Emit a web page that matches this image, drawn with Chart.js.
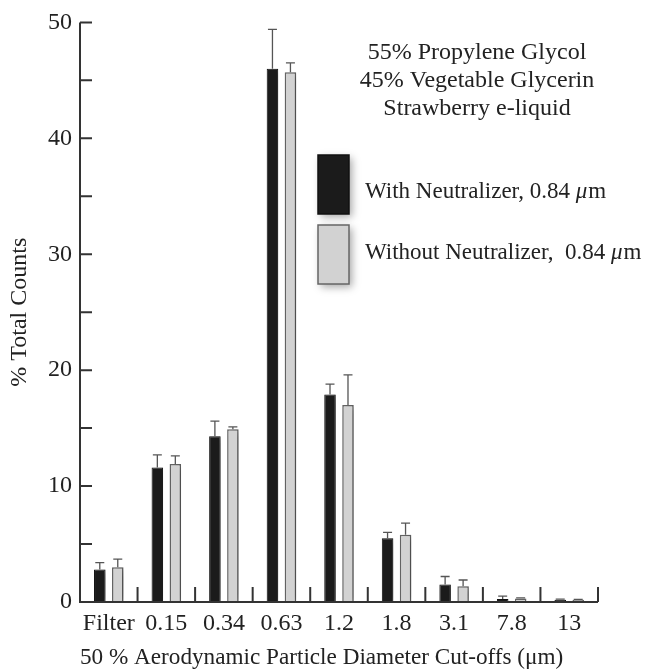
<!DOCTYPE html>
<html>
<head>
<meta charset="utf-8">
<script src="https://cdn.jsdelivr.net/npm/chart.js@4"></script>
<style>
  html, body { margin: 0; padding: 0; background: #fff; }
  #wrap { width: 645px; height: 672px; position: relative; }
</style>
</head>
<body>
<div id="wrap"><canvas id="cutoffChart"></canvas></div>
<script>
// cut-off diameters (um)
var cutoffs = ["Filter", "0.15", "0.34", "0.63", "1.2", "1.8", "3.1", "7.8", "13"];

var withNeutralizer = [2.8, 11.6, 14.3, 46.0, 17.9, 5.5, 1.5, 0.25, 0.2];
var withNeutralizerErr = [0.6, 1.1, 1.3, 3.4, 0.9, 0.5, 0.7, 0.25, 0.05];

var withoutNeutralizer = [3.0, 11.9, 14.9, 45.7, 17.0, 5.8, 1.35, 0.3, 0.2];
var withoutNeutralizerErr = [0.7, 0.7, 0.2, 0.8, 2.6, 1.0, 0.55, 0.05, 0.03];

var seriesLabels = ["With Neutralizer, 0.84 ", "Without Neutralizer,  0.84 "];
var noteLines = ["55% Propylene Glycol", "45% Vegetable Glycerin", "Strawberry e-liquid"];

var serif = "'Liberation Serif', 'DejaVu Serif', serif";
var errs = [withNeutralizerErr, withoutNeutralizerErr];

// soft shadow behind the bars
var shadowPlugin = {
  id: "shadow",
  beforeDatasetsDraw: function (chart) {
    var ctx = chart.ctx;
    ctx.save();
    ctx.shadowColor = "rgba(0,0,0,0.35)";
    ctx.shadowBlur = 9;
    ctx.shadowOffsetX = 5;
    ctx.shadowOffsetY = 1;
  },
  afterDatasetsDraw: function (chart) {
    chart.ctx.restore();
  }
};

// upward error bars, inward ticks, note and legend
var extrasPlugin = {
  id: "extras",
  afterDatasetsDraw: function (chart) {
    var ctx = chart.ctx;
    var ys = chart.scales.y, xs = chart.scales.x;
    var area = chart.chartArea;

    ctx.save();
    ctx.strokeStyle = "#555";
    ctx.lineWidth = 1.3;
    chart.data.datasets.forEach(function (ds, i) {
      var meta = chart.getDatasetMeta(i);
      meta.data.forEach(function (bar, j) {
        var top = ys.getPixelForValue(ds.data[j] + errs[i][j]);
        ctx.beginPath();
        ctx.moveTo(bar.x, bar.y);
        ctx.lineTo(bar.x, top);
        ctx.moveTo(bar.x - 4.5, top);
        ctx.lineTo(bar.x + 4.5, top);
        ctx.stroke();
      });
    });

    // axis lines + inward ticks
    ctx.strokeStyle = "#333";
    ctx.lineWidth = 2;
    ctx.beginPath();
    ctx.moveTo(area.left, area.top);
    ctx.lineTo(area.left, area.bottom);
    ctx.lineTo(area.right, area.bottom);
    for (var v = 0; v <= 50; v += 5) {
      var py = ys.getPixelForValue(v);
      ctx.moveTo(area.left, py);
      ctx.lineTo(area.left + 12, py);
    }
    for (var k = 1; k <= cutoffs.length; k++) {
      var px = xs.getPixelForValue(k - 0.5);
      ctx.moveTo(px, area.bottom);
      ctx.lineTo(px, area.bottom - 15);
    }
    ctx.stroke();

    // composition note
    ctx.fillStyle = "#222";
    ctx.font = "24px " + serif;
    ctx.textAlign = "center";
    ctx.textBaseline = "middle";
    noteLines.forEach(function (t, n) {
      ctx.fillText(t, 477, 53 + n * 28);
    });

    // legend
    ctx.textAlign = "left";
    chart.data.datasets.forEach(function (ds, i) {
      var bx = 318, by = 155 + i * 70;
      ctx.save();
      ctx.shadowColor = "rgba(0,0,0,0.35)";
      ctx.shadowBlur = 8;
      ctx.shadowOffsetX = 3;
      ctx.shadowOffsetY = 3;
      ctx.fillStyle = ds.backgroundColor;
      ctx.fillRect(bx, by, 31, 59);
      ctx.restore();
      ctx.strokeStyle = ds.borderColor;
      ctx.lineWidth = 1.5;
      ctx.strokeRect(bx, by, 31, 59);
      ctx.fillStyle = "#222";
      var ty = 192 + i * 61;
      ctx.font = "23px " + serif;
      ctx.fillText(ds.label, 365, ty);
      var w = ctx.measureText(ds.label).width;
      ctx.font = "italic 23px " + serif;
      ctx.fillText("\u03bc", 365 + w, ty);
      var w2 = ctx.measureText("\u03bc").width;
      ctx.font = "23px " + serif;
      ctx.fillText("m", 365 + w + w2 + 1, ty);
    });
    ctx.restore();
  }
};

var ctx = document.getElementById("cutoffChart");
var cutoffChart = new Chart(ctx, {
  type: "bar",
  data: {
    labels: cutoffs,
    datasets: [
      {
        label: seriesLabels[0],
        data: withNeutralizer,
        backgroundColor: "#1b1b1b",
        borderColor: "#111",
        borderWidth: 1
      },
      {
        label: seriesLabels[1],
        data: withoutNeutralizer,
        backgroundColor: "#d2d2d2",
        borderColor: "#666",
        borderWidth: 1.5
      }
    ]
  },
  options: {
    responsive: true,
    maintainAspectRatio: false,
    animation: false,
    categoryPercentage: 0.625,
    barPercentage: 0.64,
    layout: { padding: { top: 22, right: 47, left: 0, bottom: 0 } },
    plugins: {
      legend: { display: false },
      tooltip: { enabled: false }
    },
    scales: {
      x: {
        grid: { display: false, drawTicks: false },
        border: { display: false },
        ticks: {
          color: "#222",
          padding: 7,
          autoSkip: false,
          maxRotation: 0,
          minRotation: 0,
          font: { family: serif, size: 24 }
        },
        title: {
          display: true,
          // trailing spaces nudge the centred title a bit to the left
          text: "50 % Aerodynamic Particle Diameter Cut-offs (\u03bcm)\u00a0\u00a0\u00a0\u00a0\u00a0\u00a0",
          color: "#222",
          font: { family: serif, size: 24 },
          padding: { top: 6, bottom: 0 }
        },
        afterFit: function (s) { s.height = 70; }
      },
      y: {
        min: 0,
        max: 50,
        grid: { display: false, drawTicks: false },
        border: { display: false },
        ticks: { stepSize: 10, color: "#222", padding: 8, font: { family: serif, size: 24 } },
        title: {
          display: true,
          text: "% Total Counts",
          color: "#222",
          font: { family: serif, size: 24 },
          padding: { top: 5, bottom: 0 }
        },
        afterFit: function (s) { s.width = 80; }
      }
    }
  },
  plugins: [shadowPlugin, extrasPlugin]
});
</script>
</body>
</html>
